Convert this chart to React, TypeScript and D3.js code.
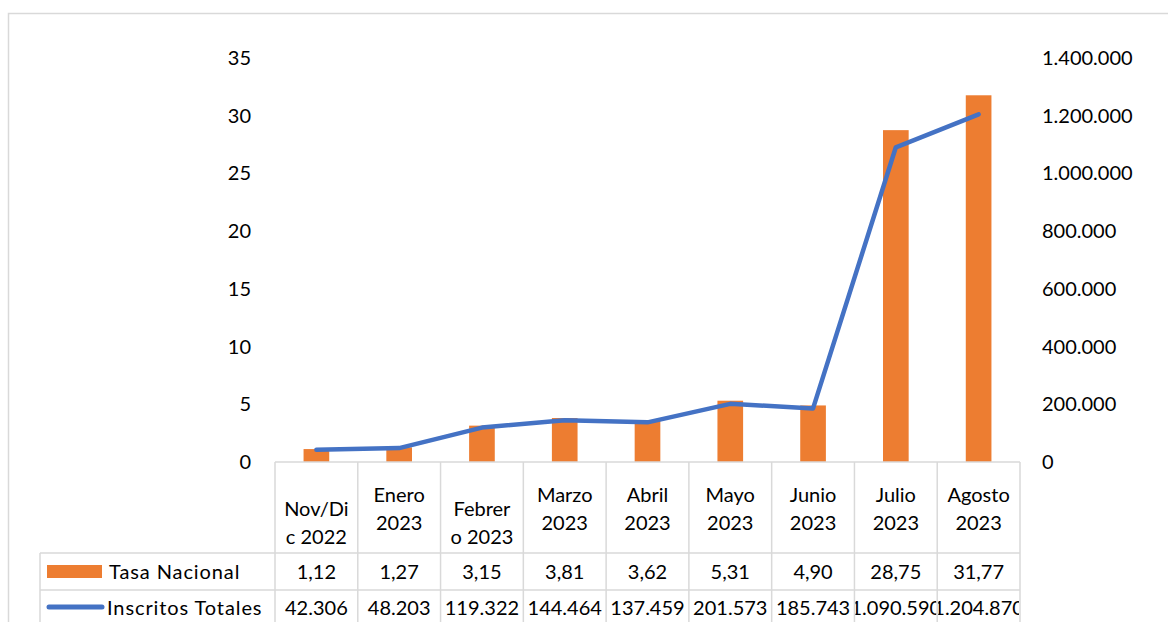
import { useRef, useEffect } from "react";
import * as d3 from "d3";

const categories = [
  ["Nov/Di", "c 2022"],
  ["Enero", "2023"],
  ["Febrer", "o 2023"],
  ["Marzo", "2023"],
  ["Abril", "2023"],
  ["Mayo", "2023"],
  ["Junio", "2023"],
  ["Julio", "2023"],
  ["Agosto", "2023"],
];
const tasaNacional = [1.12, 1.27, 3.15, 3.81, 3.62, 5.31, 4.9, 28.75, 31.77];
const inscritosTotales = [42306, 48203, 119322, 144464, 137459, 201573, 185743, 1090590, 1204870];
const leftTicks = [0, 5, 10, 15, 20, 25, 30, 35];
const rightTicks = [0, 200000, 400000, 600000, 800000, 1000000, 1200000, 1400000];

const ORANGE = "#ED7D31";
const BLUE = "#4472C4";
const GRID = "#D9D9D9";
const FONT = "Lato, 'Open Sans', sans-serif";
const FS = "20px";

const fmtThousands = (v: number) =>
  d3.format(",")(v).replace(/,/g, ".");
const fmtDec = (v: number) => d3.format(".2f")(v).replace(".", ",");

const App = () => {
  const ref = useRef<SVGSVGElement>(null);

  useEffect(() => {
    if (!ref.current) return;
    const svg = d3.select(ref.current);
    svg.selectAll("*").remove();

    const width = 1168;
    const height = 622;
    const plotLeft = 275;
    const plotRight = 1020;
    const top = 58;
    const base = 462;

    const x = d3
      .scaleBand<number>()
      .domain(d3.range(categories.length))
      .range([plotLeft, plotRight]);
    const yL = d3.scaleLinear().domain([0, 35]).range([base, top]);
    const yR = d3.scaleLinear().domain([0, 1400000]).range([base, top]);

    svg.attr("width", width).attr("height", height);

    // outer chart border
    svg
      .append("rect")
      .attr("x", 8.5)
      .attr("y", 13.5)
      .attr("width", width + 10)
      .attr("height", height + 10)
      .attr("fill", "white")
      .attr("stroke", GRID)
      .attr("stroke-width", 1.5);

    // left axis labels
    svg
      .append("g")
      .selectAll("text")
      .data(leftTicks)
      .enter()
      .append("text")
      .attr("x", 251)
      .attr("y", (d) => yL(d))
      .attr("dy", "0.35em")
      .attr("text-anchor", "end")
      .style("font-family", FONT)
      .style("font-size", FS)
      .style("fill", "#000")
      .text((d) => d);

    // right axis labels
    svg
      .append("g")
      .selectAll("text")
      .data(rightTicks)
      .enter()
      .append("text")
      .attr("x", 1042)
      .attr("y", (d) => yR(d))
      .attr("dy", "0.35em")
      .attr("text-anchor", "start")
      .style("font-family", FONT)
      .style("font-size", FS)
      .style("fill", "#000")
      .text((d) => fmtThousands(d));

    // bars
    const barW = x.bandwidth() * 0.31;
    svg
      .append("g")
      .selectAll("rect")
      .data(tasaNacional)
      .enter()
      .append("rect")
      .attr("x", (_, i) => x(i)! + x.bandwidth() / 2 - barW / 2)
      .attr("y", (d) => yL(d))
      .attr("width", barW)
      .attr("height", (d) => base - yL(d))
      .attr("fill", ORANGE);

    // line
    const line = d3
      .line<number>()
      .x((_, i) => x(i)! + x.bandwidth() / 2)
      .y((d) => yR(d));
    svg
      .append("path")
      .datum(inscritosTotales)
      .attr("d", line)
      .attr("fill", "none")
      .attr("stroke", BLUE)
      .attr("stroke-width", 4.5)
      .attr("stroke-linecap", "round")
      .attr("stroke-linejoin", "round");

    // data table
    const headerBottom = 553;
    const row1Bottom = 590;
    const row2Bottom = 628;
    const tableLeft = 40;
    const g = svg.append("g");
    const grid = (x1: number, y1: number, x2: number, y2: number) =>
      g
        .append("line")
        .attr("x1", x1)
        .attr("y1", y1)
        .attr("x2", x2)
        .attr("y2", y2)
        .attr("stroke", GRID)
        .attr("stroke-width", 1.5);

    grid(plotLeft, base, plotRight, base);
    grid(tableLeft, headerBottom, plotRight, headerBottom);
    grid(tableLeft, row1Bottom, plotRight, row1Bottom);
    grid(tableLeft, row2Bottom, plotRight, row2Bottom);
    grid(tableLeft, headerBottom, tableLeft, row2Bottom);
    d3.range(categories.length + 1).forEach((i) => {
      const xx = i < categories.length ? x(i)! : plotRight;
      grid(xx, base, xx, row2Bottom);
    });

    // header labels
    categories.forEach((lines, i) => {
      const cx = x(i)! + x.bandwidth() / 2;
      const first = i === 0 || i === 2 ? 509 : 495;
      lines.forEach((t, j) => {
        g.append("text")
          .attr("x", cx)
          .attr("y", first + j * 28)
          .attr("dy", "0.35em")
          .attr("text-anchor", "middle")
          .style("font-family", FONT)
          .style("font-size", FS)
          .style("fill", "#000")
          .text(t);
      });
    });

    // legend keys
    g.append("rect")
      .attr("x", 47)
      .attr("y", 565)
      .attr("width", 55)
      .attr("height", 13)
      .attr("fill", ORANGE);
    g.append("line")
      .attr("x1", 49)
      .attr("x2", 102)
      .attr("y1", 607)
      .attr("y2", 607)
      .attr("stroke", BLUE)
      .attr("stroke-width", 5)
      .attr("stroke-linecap", "round");
    g.append("text")
      .attr("x", 109)
      .attr("y", 572)
      .attr("dy", "0.35em")
      .style("font-family", FONT)
      .style("font-size", FS)
      .style("letter-spacing", "0.9px")
      .text("Tasa Nacional");
    g.append("text")
      .attr("x", 107)
      .attr("y", 608)
      .attr("dy", "0.35em")
      .style("font-family", FONT)
      .style("font-size", FS)
      .style("letter-spacing", "0.9px")
      .text("Inscritos Totales");

    const rows = [
      { values: tasaNacional.map(fmtDec), y: 572, top: headerBottom, bottom: row1Bottom },
      { values: inscritosTotales.map(fmtThousands), y: 608, top: row1Bottom, bottom: row2Bottom },
    ];
    const defs = svg.append("defs");
    rows.forEach((r, ri) => {
      r.values.forEach((v, i) => {
        const id = `clip-${ri}-${i}`;
        defs
          .append("clipPath")
          .attr("id", id)
          .append("rect")
          .attr("x", x(i)! + 1)
          .attr("y", r.top)
          .attr("width", x.bandwidth() - 2)
          .attr("height", r.bottom - r.top);
        g.append("text")
          .attr("clip-path", `url(#${id})`)
          .attr("x", x(i)! + x.bandwidth() / 2)
          .attr("y", r.y)
          .attr("dy", "0.35em")
          .attr("text-anchor", "middle")
          .style("font-family", FONT)
          .style("font-size", FS)
          .style("fill", "#000")
          .text(v);
      });
    });
  }, []);

  return (
    <svg
      ref={ref}
      style={{ position: "absolute", left: 0, top: 0, display: "block" }}
    />
  );
};

export default App;
